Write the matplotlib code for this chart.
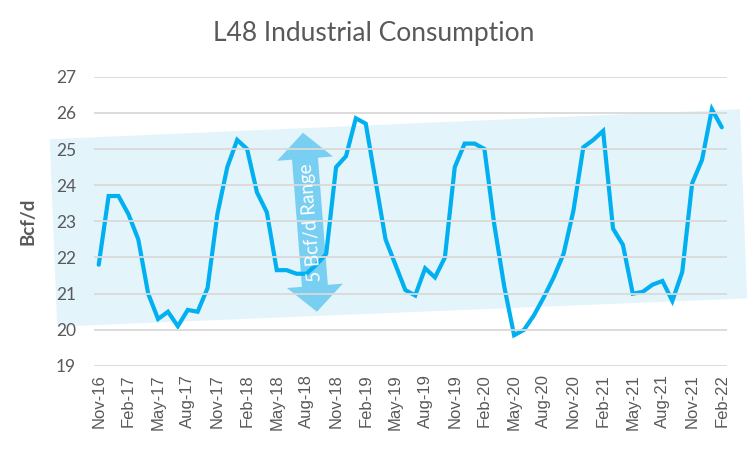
import numpy as np
import matplotlib
matplotlib.use('Agg')
import matplotlib.pyplot as plt
from matplotlib.patches import Polygon
from matplotlib.transforms import IdentityTransform

# monthly industrial consumption, Nov-16 .. Feb-22 (Bcf/d)
months = ['Nov-16', 'Dec-16',
          'Jan-17', 'Feb-17', 'Mar-17', 'Apr-17', 'May-17', 'Jun-17',
          'Jul-17', 'Aug-17', 'Sep-17', 'Oct-17', 'Nov-17', 'Dec-17',
          'Jan-18', 'Feb-18', 'Mar-18', 'Apr-18', 'May-18', 'Jun-18',
          'Jul-18', 'Aug-18', 'Sep-18', 'Oct-18', 'Nov-18', 'Dec-18',
          'Jan-19', 'Feb-19', 'Mar-19', 'Apr-19', 'May-19', 'Jun-19',
          'Jul-19', 'Aug-19', 'Sep-19', 'Oct-19', 'Nov-19', 'Dec-19',
          'Jan-20', 'Feb-20', 'Mar-20', 'Apr-20', 'May-20', 'Jun-20',
          'Jul-20', 'Aug-20', 'Sep-20', 'Oct-20', 'Nov-20', 'Dec-20',
          'Jan-21', 'Feb-21', 'Mar-21', 'Apr-21', 'May-21', 'Jun-21',
          'Jul-21', 'Aug-21', 'Sep-21', 'Oct-21', 'Nov-21', 'Dec-21',
          'Jan-22', 'Feb-22']
consumption = [21.8, 23.7,
               23.7, 23.2, 22.5, 21.0, 20.3, 20.5,
               20.1, 20.55, 20.5, 21.15, 23.2, 24.5,
               25.25, 25.0, 23.8, 23.25, 21.65, 21.65,
               21.55, 21.55, 21.8, 22.1, 24.5, 24.8,
               25.85, 25.7, 24.1, 22.5, 21.8, 21.1,
               20.95, 21.7, 21.45, 22.0, 24.5, 25.15,
               25.15, 25.0, 22.9, 21.2, 19.85, 20.0,
               20.4, 20.9, 21.45, 22.1, 23.3, 25.05,
               25.25, 25.5, 22.8, 22.35, 21.0, 21.05,
               21.25, 21.35, 20.8, 21.6, 24.05, 24.7,
               26.1, 25.6]

# shaded 5 Bcf/d band (month index, value) corners
band_x = [-4.95, 64.82, 65.56, -4.20]
band_y = [25.27, 26.10, 20.87, 20.09]

# double arrow ends (month index, value)
arrow_x = [20.65, 22.06]
arrow_y = [25.45, 20.50]

txt = '#595959'
fig = plt.figure(figsize=(7.5, 4.5), dpi=100)
ax = fig.add_axes([0.1257, 0.1867, 0.969 - 0.1257, 0.8296 - 0.1867])

x = np.arange(len(months))
ax.set_xlim(-0.45, len(months) - 0.5)
ax.set_ylim(19, 27)

ax.add_patch(Polygon(np.column_stack([band_x, band_y]), closed=True,
                     facecolor='#E3F4FB', edgecolor='none', zorder=0.5,
                     clip_on=False))

ax.set_yticks(range(19, 28))
ax.grid(axis='y', color='#D9D9D9', lw=1.3, zorder=1)
ax.set_axisbelow(False)

# arrow built in pixel space so it keeps its shape
p0 = ax.transData.transform((arrow_x[0], arrow_y[0]))
p1 = ax.transData.transform((arrow_x[1], arrow_y[1]))
u = (p1 - p0) / np.linalg.norm(p1 - p0)
n = np.array([-u[1], u[0]])
hl, hw, sw = 26, 28, 13
pts = [p0,
       p0 + u * hl + n * hw, p0 + u * hl + n * sw,
       p1 - u * hl + n * sw, p1 - u * hl + n * hw,
       p1,
       p1 - u * hl - n * hw, p1 - u * hl - n * sw,
       p0 + u * hl - n * sw, p0 + u * hl - n * hw]
ax.add_patch(Polygon(pts, closed=True, transform=IdentityTransform(),
                     facecolor='#78CFF2', edgecolor='none', zorder=1.5,
                     clip_on=False))

ax.plot(x, consumption, color='#00B0F0', lw=3.0, solid_joinstyle='miter',
        solid_capstyle='round', zorder=2)

mid = ax.transData.inverted().transform((p0 + p1) / 2)
ang = np.degrees(np.arctan2(p0[1] - p1[1], p0[0] - p1[0]))
ax.text(mid[0] + 0.1, mid[1], '5 Bcf/d Range', rotation=ang,
        rotation_mode='anchor', ha='center', va='center', color='white',
        fontsize=13.5, family='Lato', zorder=3)

ax.set_xticks(x[::3])
ax.set_xticklabels(months[::3], rotation=90, fontsize=12,
                   family='Liberation Sans', color=txt)
for lab in ax.get_yticklabels():
    lab.set_family('Lato')
ax.tick_params(axis='y', length=0, pad=13, labelsize=12.5, labelcolor=txt)
ax.tick_params(axis='x', length=0, pad=6)
for s in ax.spines.values():
    s.set_visible(False)

ax.set_ylabel('Bcf/d', fontsize=13.5, fontweight='bold', color=txt,
              family='Lato', labelpad=14)
fig.text(0.4987, 0.925, 'L48 Industrial Consumption', ha='center',
         va='center', fontsize=19, color=txt, family='Lato')

fig.savefig('out.png', dpi=100)
